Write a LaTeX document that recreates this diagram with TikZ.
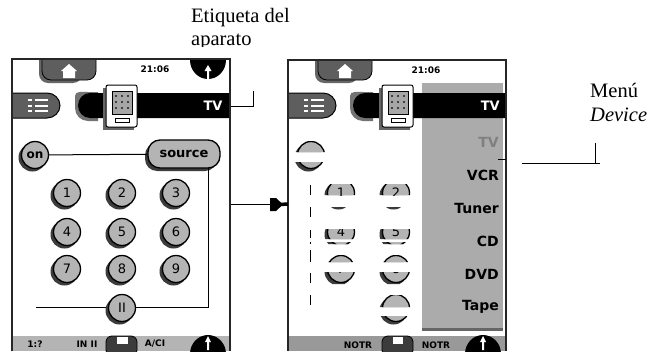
\documentclass[tikz,border=0pt]{standalone}
\usepackage{fontspec}
\setmainfont{Liberation Serif}
\newfontfamily\uifont{DejaVu Sans}
\definecolor{btngray}{HTML}{B4B4B4}
\definecolor{shadowgray}{HTML}{3C3C3C}
\definecolor{pillgray}{HTML}{5E5E5E}
\definecolor{menugray}{HTML}{ABABAB}
\tikzset{
  frameline/.style={draw=black!85,line width=1.4pt},
  wire/.style={draw=black,line width=1pt},
  btn/.style={circle,draw=black,line width=1.3pt,fill=btngray,minimum size=27pt,inner sep=0pt,font=\uifont\fontsize{13}{13}\selectfont},
  capt/.style={font=\fontsize{20.5}{23}\selectfont,inner sep=0pt,anchor=base west},
  status/.style={font=\uifont\bfseries\fontsize{9}{10}\selectfont,inner sep=0pt},
  menuitem/.style={font=\uifont\bfseries\fontsize{14}{15}\selectfont,inner sep=0pt,anchor=east},
}
\newcommand{\rbtn}[4]{%
  \fill[shadowgray] (#1-2.5,#2+2.5) circle (14);
  \node[btn] (#4) at (#1,#2) {#3};}
\newcommand{\bandbtn}[8]{%
  \begin{scope}
    \clip (#1-20,#5) rectangle (#1+20,#6) (#1-20,#7) rectangle (#1+20,#8);
    \rbtn{#1}{#2}{#3}{#4}
  \end{scope}}
\newcommand{\homepill}[2]{%
  \fill[black!60,rounded corners=9pt] (#1-3,50) rectangle (#1+40,83);
  \fill[pillgray,draw=black,line width=.8pt,rounded corners=9pt] (#1,50) rectangle (#1+54,80);
  \fill[white] (#1+27,#2-7) -- (#1+35,#2) -- (#1+33,#2) -- (#1+33,#2+7) -- (#1+21,#2+7) -- (#1+21,#2) -- (#1+19,#2) -- cycle;}
\newcommand{\blobtop}[2]{%
  \fill[black] (#1,#2) ellipse (18 and 19);
  \fill[white] (#1,#2+5) -- (#1+3.5,#2+11) -- (#1+1,#2+11) -- (#1+1,#2+19) -- (#1-1,#2+19) -- (#1-1,#2+11) -- (#1-3.5,#2+11) -- cycle;}
\newcommand{\blobbot}[2]{%
  \fill[black] (#1,#2) ellipse (18 and 19);
  \fill[white] (#1,#2-18) -- (#1+3,#2-12) -- (#1+1,#2-12) -- (#1+1,#2-4) -- (#1-1,#2-4) -- (#1-1,#2-12) -- (#1-3,#2-12) -- cycle;}
\newcommand{\listpill}[1]{%
  \fill[pillgray,draw=black,line width=1pt] (#1,93) -- (#1+35,93) to[out=0,in=90] (#1+48,105.5) to[out=-90,in=0] (#1+35,118) -- (#1,118) -- cycle;
  \foreach \yy in {100,105.5,111}{
    \fill[white] (#1+16,\yy-1) rectangle (#1+20,\yy+1);
    \fill[white] (#1+23,\yy-1) rectangle (#1+36,\yy+1);}}
\newcommand{\tvbar}[2]{%
  \fill[black!55] (#1-3,96) to[out=90,in=180] (#1+10,92) -- (#1+20,92) -- (#1+20,121) -- (#1+10,121) to[out=180,in=270] (#1-3,108) -- cycle;
  \fill[black] (#1+12,93) -- (#2,93) -- (#2,118) -- (#1+12,118) to[out=180,in=-90] (#1,105.5) to[out=90,in=180] cycle;}
\newcommand{\devicon}[1]{%
  \fill[black!60] (#1-3,88) rectangle (#1+28,130);
  \fill[white,draw=black,line width=1pt,rounded corners=2pt] (#1,85) rectangle (#1+31,127);
  \fill[black!35,draw=black,line width=.8pt] (#1+6,91) rectangle (#1+26,114);
  \foreach \xx in {10,16,22}\foreach \yy in {96,102,108}{\fill[black!75] (#1+\xx-1,\yy-1) rectangle (#1+\xx+1,\yy+1);}
  \draw[black,line width=.8pt] (#1+9,118) rectangle (#1+23,122);}
\begin{document}
\begin{tikzpicture}[x=1pt,y=-1pt]
\useasboundingbox (0,0) rectangle (651,351);
\fill[white] (0,0) rectangle (651,351);

\begin{scope}
  \clip (150,0) rectangle (320,46);
  \node[capt] (lblA) at (191,22.5) {Etiqueta del};
  \node[capt] (lblB) at (191,45.5) {aparato};
\end{scope}
\node[capt] (lblC) at (590,97) {Menú};
\node[capt] (lblD) at (590,121) {\textit{Device}};

%========= left screen
\begin{scope}
  \clip (12,59) rectangle (230,351);
  \fill[btngray] (12,336) rectangle (230,351);
  \homepill{42}{71}
  \blobtop{208}{60}
  \blobbot{208}{354}
  \listpill{12}
  \tvbar{78}{230}
  \fill[shadowgray,draw=black,line width=.8pt,rounded corners=6pt] (106,336) rectangle (137,356);
  \fill[white] (117,337) rectangle (128,344);
\end{scope}
\devicon{106}
\node[font=\uifont\bfseries\fontsize{13}{14}\selectfont,text=white,inner sep=0pt] (tvL) at (213,106) {TV};
\node[status] (timeL) at (155,69) {21:06};
\node[status] (stA) at (35,344) {1:?};
\node[status] (stB) at (87,344) {IN II};
\node[status] (stC) at (155,344) {A/CI};

\coordinate (wireB) at (208,168);
\coordinate (wireC) at (36,307);
\rbtn{35}{155}{\bfseries\fontsize{12}{12}\selectfont on}{on}
\fill[shadowgray,rounded corners=12pt] (145,143) rectangle (217,171);
\node[draw=black,line width=1.3pt,fill=btngray,rounded corners=12pt,minimum width=72pt,minimum height=28pt,inner sep=0pt,font=\uifont\bfseries\fontsize{13}{13}\selectfont] (src) at (184,154) {source};
\draw[wire] (on) -- (src);
\draw[wire] (wireB) -- (208,307) -- (wireC);
\rbtn{67}{193}{1}{b1}
\rbtn{122}{193}{2}{b2}
\rbtn{176}{193}{3}{b3}
\rbtn{67}{232}{4}{b4}
\rbtn{122}{232}{5}{b5}
\rbtn{176}{232}{6}{b6}
\rbtn{67}{269}{7}{b7}
\rbtn{122}{269}{8}{b8}
\rbtn{176}{269}{9}{b9}
\rbtn{122}{308}{II}{b0}
\draw[frameline] (12,351) -- (12,59) -- (230,59) -- (230,351);

%========= right screen
\begin{scope}
  \clip (288,60) rectangle (506,351);
  \fill[btngray!85!black] (288,336) rectangle (506,351);
  \homepill{318}{71}
  \fill[menugray] (422,83) rectangle (503,328);
  \fill[black!60] (422,328) rectangle (503,331);
  \listpill{288}
  \tvbar{353}{506}
  \blobbot{483}{354}
  \fill[shadowgray,draw=black,line width=.8pt,rounded corners=6pt] (382,336) rectangle (413,356);
  \fill[white] (393,337) rectangle (403,344);
\end{scope}
\devicon{382}
\node[font=\uifont\bfseries\fontsize{13}{14}\selectfont,text=white,inner sep=0pt,anchor=east] (tvR) at (500,106) {TV};
\node[status] (timeR) at (426,70) {21:06};
\node[status] (stD) at (358,345) {NOTR};
\node[status] (stE) at (436,345) {NOTR};
\node[menuitem,text=black!50] (mTV) at (499,142) {TV};
\node[menuitem] (mVCR) at (499,175) {VCR};
\node[menuitem] (mTun) at (499,208) {Tuner};
\node[menuitem] (mCD) at (499,241) {CD};
\node[menuitem] (mDVD) at (499,274) {DVD};
\node[menuitem] (mTape) at (499,307) {Tape};

\bandbtn{311}{155}{}{fa}{141}{152}{162}{174}
\bandbtn{341}{193}{1}{fb}{184}{195}{207}{212}
\bandbtn{396}{193}{2}{fc}{184}{195}{207}{212}
\bandbtn{341}{232}{4}{fd}{229}{239}{242}{244}
\bandbtn{396}{232}{5}{fe}{229}{239}{242}{244}
\bandbtn{341}{269}{7}{ff}{255}{262}{272}{284}
\bandbtn{396}{269}{8}{fg}{255}{262}{272}{284}
\bandbtn{396}{308}{}{fh}{295}{307}{316}{328}
\foreach \ya/\yb in {185/195,207/217,230/238,242/244,250/262,273/283,295/305}{
  \draw[wire] (310,\ya) -- (310,\yb);}
\draw[frameline] (288,351) -- (288,60) -- (506,60) -- (506,351);
\draw[wire] (498,159) -- (506,159);

%========= connectors
\coordinate (tvEnd) at (231,106);
\coordinate (tvElbow) at (253,106);
\coordinate (tvTop) at (253,91);
\draw[wire] (tvEnd) -- (tvElbow) -- (tvTop);
\coordinate (scrL) at (231,204);
\coordinate (scrR) at (288,204);
\coordinate (headTip) at (283,204.5);
\draw[wire] (scrL) -- (272,204);
\draw[line width=3.5pt] (280,204.5) -- (scrR);
\fill[black] (270,198) -- (276,198) -- (headTip) -- (276,211) -- (270,211) -- cycle;
\coordinate (menuA) at (522,163);
\coordinate (menuB) at (600,163);
\coordinate (menuT) at (595,143);
\coordinate (menuJ) at (595,163);
\draw[wire] (menuA) -- (menuB);
\draw[wire] (menuT) -- (menuJ);
\end{tikzpicture}
\end{document}
